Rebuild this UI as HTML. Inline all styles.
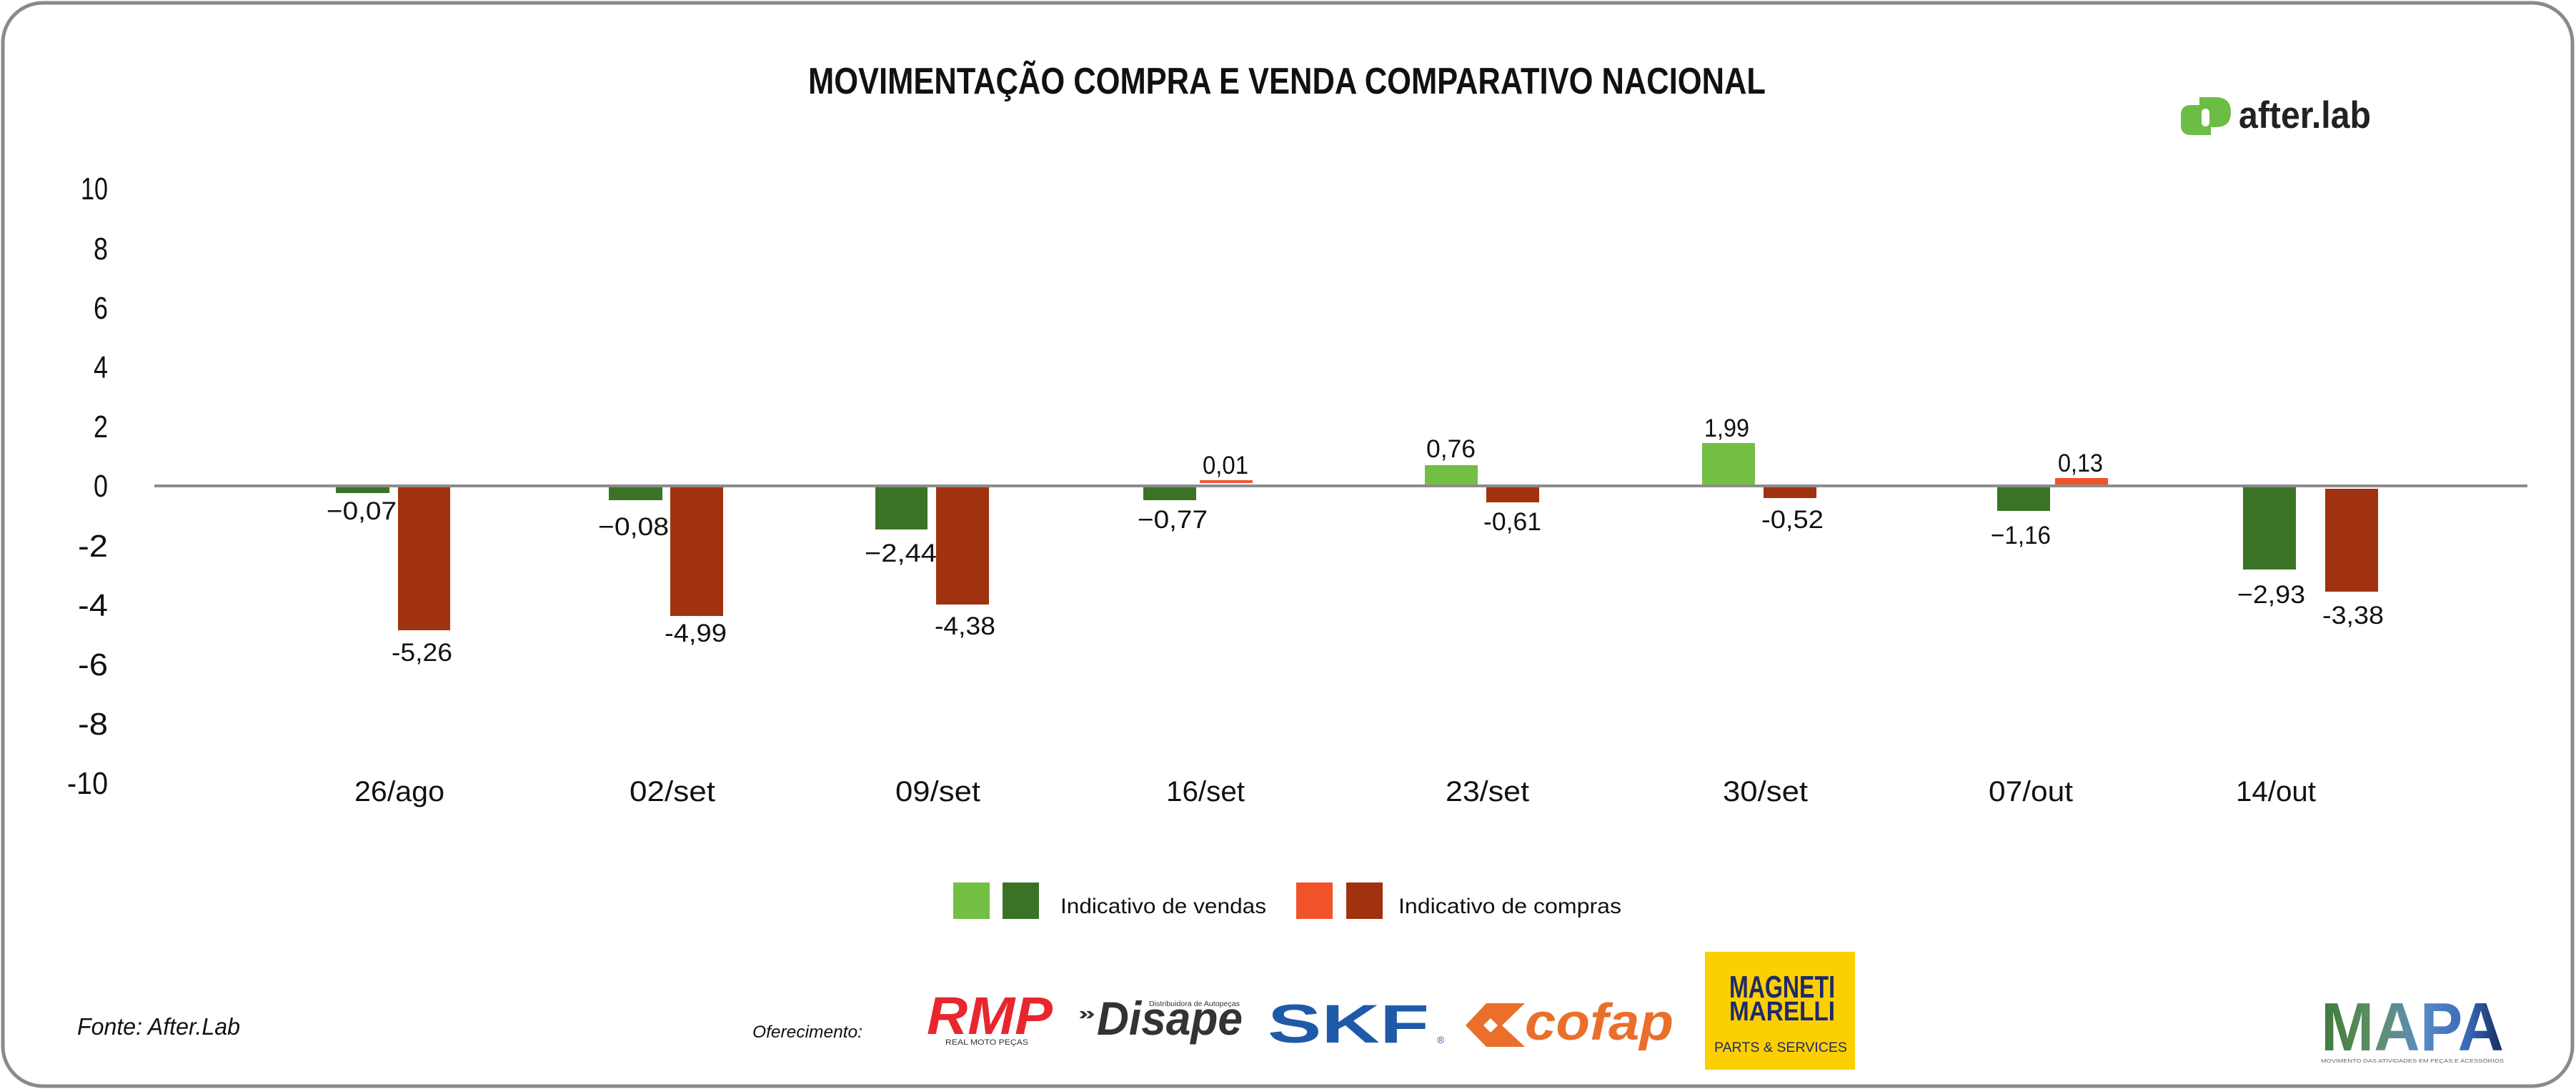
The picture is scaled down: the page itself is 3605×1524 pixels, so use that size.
<!DOCTYPE html>
<html>
<head>
<meta charset="utf-8">
<style>
html,body{margin:0;padding:0;background:#fff;}
svg{display:block;}
text{font-family:"Liberation Sans",sans-serif;}
</style>
</head>
<body>
<svg width="3605" height="1524" viewBox="0 0 3605 1524" xmlns="http://www.w3.org/2000/svg">
<defs>
<linearGradient id="mapa" x1="0" y1="0" x2="1" y2="0">
<stop offset="0" stop-color="#3f7a3c"/>
<stop offset="0.3" stop-color="#5f9066"/>
<stop offset="0.55" stop-color="#5a8cc6"/>
<stop offset="0.8" stop-color="#3a68b8"/>
<stop offset="1" stop-color="#142a5a"/>
</linearGradient>
</defs>
<rect x="0" y="0" width="3605" height="1524" fill="#fff"/>
<!-- border -->
<rect x="4" y="4" width="3596" height="1516" rx="56" ry="56" fill="none" stroke="#8a8a8a" stroke-width="5"/>

<!-- title -->
<text x="1131" y="131" font-size="52" font-weight="bold" fill="#111" textLength="1340" lengthAdjust="spacingAndGlyphs">MOVIMENTAÇÃO COMPRA E VENDA COMPARATIVO NACIONAL</text>

<!-- after.lab logo -->
<path d="M3094,147 L3066,147 Q3052,147 3052,161 L3052,175 Q3052,189 3066,189 L3094,189 Z" fill="#6cbd45"/>
<path d="M3078,136 L3101,136 Q3122,136 3122,157 Q3122,178 3101,178 L3078,178 Z" fill="#6cbd45"/>
<rect x="3081" y="152" width="11" height="25" rx="5.5" fill="#fff"/>
<text x="3133" y="179" font-size="53" font-weight="bold" fill="#222" textLength="185" lengthAdjust="spacingAndGlyphs">after.lab</text>

<!-- y axis labels -->
<g font-size="44" fill="#111">
<text x="113" y="279" textLength="38" lengthAdjust="spacingAndGlyphs">10</text>
<text x="131" y="363" textLength="20" lengthAdjust="spacingAndGlyphs">8</text>
<text x="131" y="446" textLength="20" lengthAdjust="spacingAndGlyphs">6</text>
<text x="131" y="529" textLength="20" lengthAdjust="spacingAndGlyphs">4</text>
<text x="131" y="612" textLength="20" lengthAdjust="spacingAndGlyphs">2</text>
<text x="131" y="695" textLength="20" lengthAdjust="spacingAndGlyphs">0</text>
<text x="109" y="779" textLength="42" lengthAdjust="spacingAndGlyphs">-2</text>
<text x="109" y="862" textLength="42" lengthAdjust="spacingAndGlyphs">-4</text>
<text x="109" y="945" textLength="42" lengthAdjust="spacingAndGlyphs">-6</text>
<text x="109" y="1028" textLength="42" lengthAdjust="spacingAndGlyphs">-8</text>
<text x="94" y="1111" textLength="57" lengthAdjust="spacingAndGlyphs">-10</text>
</g>

<!-- bars -->
<g>
<!-- 26/ago -->
<rect x="470" y="682" width="75" height="8" fill="#3b7326"/>
<rect x="557" y="682" width="73" height="200" fill="#a1320f"/>
<!-- 02/set -->
<rect x="852" y="682" width="75" height="18" fill="#3b7326"/>
<rect x="938" y="682" width="74" height="180" fill="#a1320f"/>
<!-- 09/set -->
<rect x="1225" y="682" width="73" height="59" fill="#3b7326"/>
<rect x="1310" y="682" width="74" height="164" fill="#a1320f"/>
<!-- 16/set -->
<rect x="1600" y="682" width="74" height="18" fill="#3b7326"/>
<rect x="1679" y="672" width="74" height="4" fill="#ec5a3a"/>
<!-- 23/set -->
<rect x="1994" y="651" width="74" height="27" fill="#72bf44"/>
<rect x="2080" y="682" width="74" height="21" fill="#a1320f"/>
<!-- 30/set -->
<rect x="2382" y="620" width="74" height="58" fill="#72bf44"/>
<rect x="2468" y="682" width="74" height="15" fill="#a1320f"/>
<!-- 07/out -->
<rect x="2795" y="682" width="74" height="33" fill="#3b7326"/>
<rect x="2876" y="669" width="74" height="9" fill="#f0532a"/>
<!-- 14/out -->
<rect x="3139" y="682" width="74" height="115" fill="#3b7326"/>
<rect x="3254" y="684" width="74" height="144" fill="#a1320f"/>
</g>

<!-- zero line -->
<rect x="216" y="678" width="3321" height="4" fill="#8c8c8c"/>

<!-- data labels -->
<g font-size="35" fill="#111">
<text x="457" y="727" textLength="98" lengthAdjust="spacingAndGlyphs">−0,07</text>
<text x="548" y="925" textLength="85" lengthAdjust="spacingAndGlyphs">-5,26</text>
<text x="837" y="749" textLength="99" lengthAdjust="spacingAndGlyphs">−0,08</text>
<text x="930" y="898" textLength="87" lengthAdjust="spacingAndGlyphs">-4,99</text>
<text x="1210" y="786" textLength="101" lengthAdjust="spacingAndGlyphs">−2,44</text>
<text x="1308" y="888" textLength="85" lengthAdjust="spacingAndGlyphs">-4,38</text>
<text x="1592" y="739" textLength="98" lengthAdjust="spacingAndGlyphs">−0,77</text>
<text x="1683" y="663" textLength="64" lengthAdjust="spacingAndGlyphs">0,01</text>
<text x="1996" y="640" textLength="69" lengthAdjust="spacingAndGlyphs">0,76</text>
<text x="2076" y="742" textLength="81" lengthAdjust="spacingAndGlyphs">-0,61</text>
<text x="2385" y="611" textLength="63" lengthAdjust="spacingAndGlyphs">1,99</text>
<text x="2465" y="739" textLength="87" lengthAdjust="spacingAndGlyphs">-0,52</text>
<text x="2786" y="761" textLength="84" lengthAdjust="spacingAndGlyphs">−1,16</text>
<text x="2880" y="660" textLength="63" lengthAdjust="spacingAndGlyphs">0,13</text>
<text x="3131" y="844" textLength="95" lengthAdjust="spacingAndGlyphs">−2,93</text>
<text x="3250" y="873" textLength="86" lengthAdjust="spacingAndGlyphs">-3,38</text>
</g>

<!-- x labels -->
<g font-size="40" fill="#111">
<text x="496" y="1121" textLength="126" lengthAdjust="spacingAndGlyphs">26/ago</text>
<text x="881" y="1121" textLength="120" lengthAdjust="spacingAndGlyphs">02/set</text>
<text x="1253" y="1121" textLength="119" lengthAdjust="spacingAndGlyphs">09/set</text>
<text x="1632" y="1121" textLength="110" lengthAdjust="spacingAndGlyphs">16/set</text>
<text x="2023" y="1121" textLength="117" lengthAdjust="spacingAndGlyphs">23/set</text>
<text x="2411" y="1121" textLength="119" lengthAdjust="spacingAndGlyphs">30/set</text>
<text x="2783" y="1121" textLength="118" lengthAdjust="spacingAndGlyphs">07/out</text>
<text x="3129" y="1121" textLength="112" lengthAdjust="spacingAndGlyphs">14/out</text>
</g>

<!-- legend -->
<rect x="1334" y="1235" width="51" height="51" fill="#72bf44"/>
<rect x="1403" y="1235" width="51" height="51" fill="#3b7326"/>
<text x="1484" y="1278" font-size="30" fill="#111" textLength="288" lengthAdjust="spacingAndGlyphs">Indicativo de vendas</text>
<rect x="1814" y="1235" width="51" height="51" fill="#f0532a"/>
<rect x="1884" y="1235" width="51" height="51" fill="#a1320f"/>
<text x="1957" y="1278" font-size="30" fill="#111" textLength="312" lengthAdjust="spacingAndGlyphs">Indicativo de compras</text>

<!-- footer -->
<text x="108" y="1448" font-size="33" font-style="italic" fill="#111" textLength="228" lengthAdjust="spacingAndGlyphs">Fonte: After.Lab</text>
<text x="1053" y="1452" font-size="24" font-style="italic" fill="#111" textLength="154" lengthAdjust="spacingAndGlyphs">Oferecimento:</text>

<!-- RMP -->
<text x="1297" y="1447" font-size="74" font-weight="bold" font-style="italic" fill="#e8262e" textLength="176" lengthAdjust="spacingAndGlyphs">RMP</text>
<text x="1323" y="1462" font-size="11" fill="#333" textLength="116" lengthAdjust="spacingAndGlyphs">REAL MOTO PEÇAS</text>

<!-- Disape -->
<text x="1509" y="1427" font-size="26" font-weight="bold" fill="#333" textLength="24" lengthAdjust="spacingAndGlyphs">»</text>
<text x="1535" y="1448" font-size="66" font-weight="bold" font-style="italic" fill="#333" textLength="204" lengthAdjust="spacingAndGlyphs">Disape</text>
<text x="1608" y="1408" font-size="10" fill="#333" textLength="127" lengthAdjust="spacingAndGlyphs">Distribuidora de Autopeças</text>

<!-- SKF -->
<text x="1774" y="1459" font-size="76" font-weight="bold" fill="#1e5aa8" textLength="226" lengthAdjust="spacingAndGlyphs">SKF</text>
<text x="2011" y="1460" font-size="14" fill="#1e5aa8">®</text>

<!-- cofap -->
<polygon points="2080,1404 2134,1404 2102,1435 2134,1465 2080,1465 2051,1435" fill="#ea6f2a"/>
<polygon points="2086,1425 2096,1435 2086,1445 2076,1435" fill="#fff"/>
<text x="2134" y="1455" font-size="72" font-weight="bold" font-style="italic" fill="#ea6f2a" textLength="208" lengthAdjust="spacingAndGlyphs">cofap</text>

<!-- Magneti Marelli -->
<rect x="2386" y="1332" width="210" height="165" fill="#fcd000"/>
<text x="2420" y="1396" font-size="44" font-weight="bold" fill="#1f2a6b" textLength="148" lengthAdjust="spacingAndGlyphs">MAGNETI</text>
<text x="2420" y="1428" font-size="38" font-weight="bold" fill="#1f2a6b" textLength="148" lengthAdjust="spacingAndGlyphs">MARELLI</text>
<text x="2399" y="1472" font-size="19" fill="#1f2a6b" textLength="186" lengthAdjust="spacingAndGlyphs">PARTS &amp; SERVICES</text>

<!-- MAPA -->
<text x="3248" y="1470" font-size="96" font-weight="bold" fill="url(#mapa)" textLength="256" lengthAdjust="spacingAndGlyphs">MAPA</text>
<text x="3248" y="1487" font-size="7" fill="#666" textLength="256" lengthAdjust="spacingAndGlyphs">MOVIMENTO DAS ATIVIDADES EM PEÇAS E ACESSÓRIOS</text>
</svg>
</body>
</html>
